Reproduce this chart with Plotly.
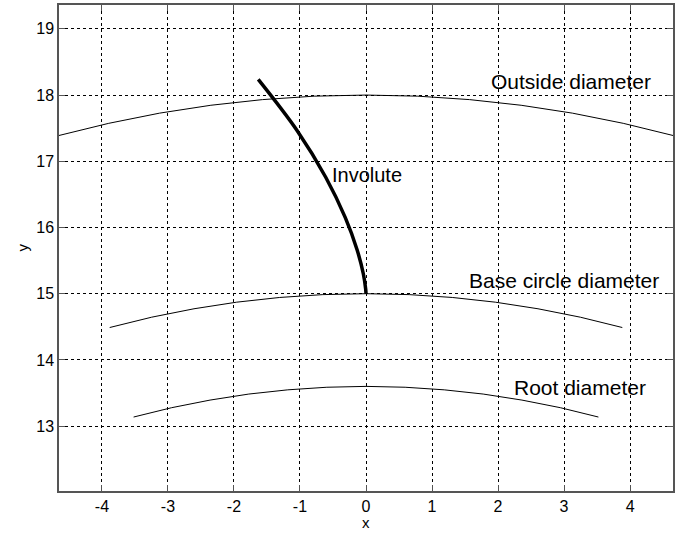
import plotly.graph_objects as go

# Arcs (x, y points)
outside_x = [-4.659, -3.896, -3.126, -2.350, -1.569, -0.785, 0.0, 0.785, 1.569, 2.350, 3.126, 3.896, 4.659]
outside_y = [17.387, 17.573, 17.727, 17.846, 17.931, 17.983, 18.0, 17.983, 17.931, 17.846, 17.727, 17.573, 17.387]

base_x = [-3.882, -3.247, -2.605, -1.958, -1.307, -0.654, 0.0, 0.654, 1.307, 1.958, 2.605, 3.247, 3.882]
base_y = [14.489, 14.645, 14.772, 14.872, 14.943, 14.986, 15.0, 14.986, 14.943, 14.872, 14.772, 14.645, 14.489]

root_x = [-3.520, -2.944, -2.362, -1.775, -1.185, -0.593, 0.0, 0.593, 1.185, 1.775, 2.362, 2.944, 3.520]
root_y = [13.137, 13.278, 13.393, 13.484, 13.548, 13.587, 13.6, 13.587, 13.548, 13.484, 13.393, 13.278, 13.137]

involute_x = [0.0, -0.005, -0.040, -0.134, -0.315, -0.610, -1.042, -1.632]
involute_y = [15.0, 15.07, 15.297, 15.66, 16.152, 16.759, 17.462, 18.237]

labels = ["Outside diameter", "Base circle diameter", "Root diameter", "Involute"]
label_x = [1.86, 1.53, 2.21, -0.54]
label_y = [18.2, 15.2, 13.58, 16.8]
label_size = [21, 21, 21, 20]

x_ticks = [-4, -3, -2, -1, 0, 1, 2, 3, 4]
y_ticks = [13, 14, 15, 16, 17, 18, 19]

FONT = "Liberation Sans, Arial"

fig = go.Figure()
for xs, ys in [(outside_x, outside_y), (base_x, base_y), (root_x, root_y)]:
    fig.add_trace(go.Scatter(x=xs, y=ys, mode="lines",
                             line=dict(color="black", width=1), showlegend=False))
fig.add_trace(go.Scatter(x=involute_x, y=involute_y, mode="lines",
                         line=dict(color="black", width=3.5, shape="spline"), showlegend=False))

for t, xx, yy, sz in zip(labels, label_x, label_y, label_size):
    fig.add_annotation(x=xx, y=yy, text=t, showarrow=False, xanchor="left", yanchor="middle",
                       font=dict(family=FONT, size=sz, color="black"))

# axis titles
fig.add_annotation(x=0.5, y=-0.065, xref="paper", yref="paper", text="x", showarrow=False,
                   xanchor="center", yanchor="middle", font=dict(family=FONT, size=15, color="black"))
fig.add_annotation(x=-0.061, y=0.5, xref="paper", yref="paper", text="y", showarrow=False,
                   textangle=-90, xanchor="center", yanchor="middle",
                   font=dict(family=FONT, size=15, color="black"))

axis_common = dict(
    showgrid=True, gridcolor="black", griddash="3px,3px", gridwidth=1,
    zeroline=False, showline=True, linecolor="#555555", linewidth=1.5, mirror="allticks",
    ticks="inside", ticklen=6, tickcolor="#555555", automargin=False,
    tickfont=dict(family=FONT, size=16, color="black"),
)

fig.update_xaxes(range=[-4.65, 4.65], tickvals=x_ticks, ticktext=[str(v) for v in x_ticks],
                 **axis_common)
fig.update_yaxes(range=[12.02, 19.36], tickvals=y_ticks, ticktext=[str(v) for v in y_ticks],
                 **axis_common)

fig.update_layout(
    width=681, height=534,
    margin=dict(l=59, r=8, t=5, b=43),
    paper_bgcolor="white", plot_bgcolor="white",
    showlegend=False,
)

fig.write_html("out.html", config={"displayModeBar": False},
               post_script="document.body.style.margin='0';document.body.style.overflow='hidden';")
